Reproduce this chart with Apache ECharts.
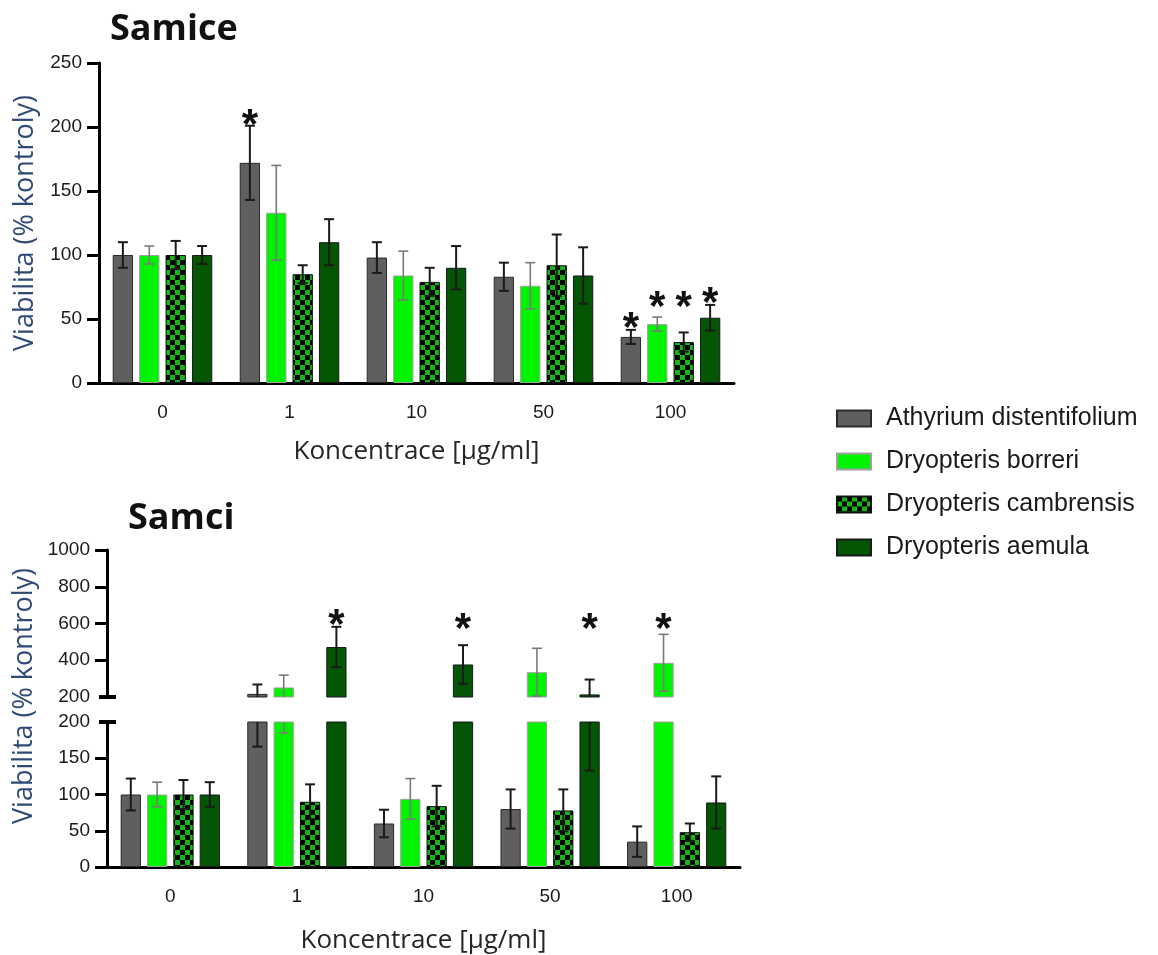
<!DOCTYPE html>
<html><head><meta charset="utf-8">
<script src="https://cdn.jsdelivr.net/npm/echarts@6/dist/echarts.min.js"></script>
<style>html,body{margin:0;padding:0;background:#fff}#c{width:1158px;height:955px}</style>
</head><body><div id="c"></div>
<script>
// ---------------- DATA ----------------
const categories = ['0', '1', '10', '50', '100'];
const seriesNames = ['Athyrium distentifolium', 'Dryopteris borreri', 'Dryopteris cambrensis', 'Dryopteris aemula'];

// Samice (top panel)
const femAthyrium      = [100, 172, 98, 83, 36];
const femAthyriumErr   = [10, 29, 12, 11, 5.5];
const femBorreri       = [100, 133, 84, 76, 46];
const femBorreriErr    = [7, 37, 19, 18, 5.5];
const femCambrensis    = [100, 85, 79, 92, 32];
const femCambrensisErr = [11, 7, 11, 24, 7.5];
const femAemula        = [100, 110, 90, 84, 51];
const femAemulaErr     = [7, 18, 17, 22, 10];
const femStarAthyrium  = [null, 208, null, null, 50];
const femStarBorreri   = [null, null, null, null, 66];
const femStarCambrensis= [null, null, null, null, 66];
const femStarAemula    = [null, null, null, null, 69];

// Samci (bottom panel, broken axis)
const maleAthyrium      = [100, 217, 60, 80, 35];
const maleAthyriumErr   = [22, 51, 19, 27, 21];
const maleBorreri       = [100, 252, 94, 335, 386];
const maleBorreriErr    = [17, 67, 28, 130, 155];
const maleCambrensis    = [100, 90, 84, 78, 48];
const maleCambrensisErr = [20, 24, 28, 29, 12];
const maleAemula        = [100, 472, 377, 214, 89];
const maleAemulaErr     = [17, 110, 105, 81, 36];
const maleStarAthyrium  = [null, null, null, null, null];
const maleStarBorreri   = [null, null, null, null, 618];
const maleStarCambrensis= [null, null, null, null, null];
const maleStarAemula    = [null, 636, 618, 618, null];

const topTicks = [0, 50, 100, 150, 200, 250];
const bottomUpperTicks = [200, 400, 600, 800, 1000];
const bottomLowerTicks = [0, 50, 100, 150, 200];
const BREAK_VALUE = 200;

// ---------------- STYLE ----------------
const BAR_W = 0.16, BAR_GAP = 0.3;
function checker() {
  const c = document.createElement('canvas');
  c.width = 10; c.height = 10;
  const g = c.getContext('2d');
  g.fillStyle = '#16b416'; g.fillRect(0, 0, 10, 10);
  g.fillStyle = '#000'; g.fillRect(0, 0, 5, 5); g.fillRect(5, 5, 5, 5);
  return c;
}
const pattern = { image: checker(), repeat: 'repeat' };
const itemStyles = [
  { color: '#5f5f5f', borderColor: '#2a2a2a', borderWidth: 1 },
  { color: '#00f400', borderColor: '#a0a0a0', borderWidth: 1 },
  { color: pattern, borderColor: '#111', borderWidth: 1 },
  { color: '#045504', borderColor: '#1a1a1a', borderWidth: 1 }
];
const errColors = ['#1a1a1a', '#7a7a7a', '#1a1a1a', '#1a1a1a'];
const errWidths = [2, 1.6, 2, 2];
const LABEL_FONT = 'Liberation Sans';
const TITLE_FONT = 'Open Sans';

function barOffset(api, k) {
  const band = api.size([1, 0])[0];
  const bw = band * BAR_W;
  return (k - 1.5) * bw * (1 + BAR_GAP);
}

function errorSeries(k, means, errs, xi, yi) {
  return {
    type: 'custom', xAxisIndex: xi, yAxisIndex: yi, z: 5, silent: true,
    encode: { x: 0, y: 1 },
    data: means.map((v, i) => [i, v, errs[i]]),
    renderItem: function (params, api) {
      const cat = api.value(0), m = api.value(1), e = api.value(2);
      const cs = params.coordSys;
      const x = api.coord([cat, m])[0] + barOffset(api, k);
      const yT = api.coord([cat, m + e])[1];
      const yB = api.coord([cat, m - e])[1];
      const top = cs.y, bot = cs.y + cs.height;
      const style = { stroke: errColors[k], lineWidth: errWidths[k] };
      const ch = [];
      const y1 = Math.max(yT, top), y2 = Math.min(yB, bot);
      if (y1 < y2) ch.push({ type: 'line', shape: { x1: x, y1: y1, x2: x, y2: y2 }, style: style });
      const cap = 5;
      if (yT >= top - 0.5 && yT <= bot + 0.5) ch.push({ type: 'line', shape: { x1: x - cap, y1: yT, x2: x + cap, y2: yT }, style: style });
      if (yB >= top - 0.5 && yB <= bot + 0.5) ch.push({ type: 'line', shape: { x1: x - cap, y1: yB, x2: x + cap, y2: yB }, style: style });
      return { type: 'group', children: ch };
    }
  };
}

function starSeries(k, stars, xi, yi) {
  const d = [];
  stars.forEach((v, i) => { if (v !== null) d.push([i, v]); });
  return {
    type: 'custom', xAxisIndex: xi, yAxisIndex: yi, z: 6, silent: true, clip: false,
    encode: { x: 0, y: 1 }, data: d,
    renderItem: function (params, api) {
      const p = api.coord([api.value(0), api.value(1)]);
      return {
        type: 'text',
        style: { text: '*', x: p[0] + barOffset(api, k), y: p[1] + 10, align: 'center', verticalAlign: 'middle',
                 font: 'bold 42px "Liberation Sans"', fill: '#111' }
      };
    }
  };
}

function breakSeries(xi, yi) {
  return {
    type: 'custom', xAxisIndex: xi, yAxisIndex: yi, z: 7, silent: true, clip: false,
    encode: { x: 0, y: 1 }, data: [[0, BREAK_VALUE]],
    renderItem: function (params, api) {
      const cs = params.coordSys;
      const y = api.coord([0, api.value(1)])[1];
      return { type: 'line', shape: { x1: cs.x - 8, y1: y, x2: cs.x + 9, y2: y }, style: { stroke: '#000', lineWidth: 4 } };
    }
  };
}

function barSeries(k, data, xi, yi) {
  return { type: 'bar', name: seriesNames[k], xAxisIndex: xi, yAxisIndex: yi, data: data,
           barWidth: (BAR_W * 100) + '%', barGap: (BAR_GAP * 100) + '%', itemStyle: itemStyles[k], clip: true, z: 2 };
}

const femMeans = [femAthyrium, femBorreri, femCambrensis, femAemula];
const femErrs = [femAthyriumErr, femBorreriErr, femCambrensisErr, femAemulaErr];
const femStars = [femStarAthyrium, femStarBorreri, femStarCambrensis, femStarAemula];
const maleMeans = [maleAthyrium, maleBorreri, maleCambrensis, maleAemula];
const maleErrs = [maleAthyriumErr, maleBorreriErr, maleCambrensisErr, maleAemulaErr];
const maleStars = [maleStarAthyrium, maleStarBorreri, maleStarCambrensis, maleStarAemula];

const series = [];
for (let k = 0; k < 4; k++) {
  series.push(barSeries(k, femMeans[k], 0, 0));
  series.push(errorSeries(k, femMeans[k], femErrs[k], 0, 0));
  series.push(starSeries(k, femStars[k], 0, 0));
  series.push(barSeries(k, maleMeans[k].map(v => v > BREAK_VALUE ? v : '-'), 1, 1));
  series.push(errorSeries(k, maleMeans[k], maleErrs[k], 1, 1));
  series.push(starSeries(k, maleStars[k], 1, 1));
  series.push(barSeries(k, maleMeans[k], 2, 2));
  series.push(errorSeries(k, maleMeans[k], maleErrs[k], 2, 2));
}
series.push(breakSeries(1, 1));
series.push(breakSeries(2, 2));

const axisLineStyle = { color: '#000', width: 3 };
function xAxis(gi, show, gap) {
  return {
    type: 'category', gridIndex: gi, data: categories, show: show,
    axisLine: { lineStyle: axisLineStyle },
    axisTick: { alignWithLabel: true, length: 10, lineStyle: { color: '#000', width: 4 } },
    axisLabel: { margin: 20, fontSize: 19, color: '#1a1a1a', fontFamily: LABEL_FONT },
    name: show ? 'Koncentrace [µg/ml]' : '', nameLocation: 'middle', nameGap: gap || 56,
    nameTextStyle: { fontFamily: TITLE_FONT, fontSize: 26, color: '#262626' }
  };
}
function yAxis(gi, min, max, interval, tickVals, name) {
  return {
    type: 'value', gridIndex: gi, min: min, max: max, interval: interval,
    splitLine: { show: false },
    axisLine: { show: true, lineStyle: axisLineStyle },
    axisTick: { show: true, length: 12, lineStyle: { color: '#000', width: 3 }, customValues: tickVals },
    axisLabel: { margin: 17, fontSize: 19, color: '#1a1a1a', fontFamily: LABEL_FONT, formatter: v => String(v) },
    name: name || '', nameLocation: 'middle', nameGap: 60,
    nameTextStyle: { fontFamily: TITLE_FONT, fontSize: 27, color: '#2f4b75' }
  };
}

const option = {
  animation: false,
  backgroundColor: '#fff',
  title: [
    { text: 'Samice', left: 110, top: 12, padding: 0, textStyle: { fontFamily: TITLE_FONT, fontWeight: 'bold', fontSize: 36, color: '#111' } },
    { text: 'Samci', left: 128, top: 501, padding: 0, textStyle: { fontFamily: TITLE_FONT, fontWeight: 'bold', fontSize: 36, color: '#111' } }
  ],
  legend: {
    orient: 'vertical', left: 831, top: 401, itemWidth: 34, itemHeight: 16, itemGap: 18,
    data: seriesNames.map(n => ({ name: n, icon: 'rect' })), selectedMode: false,
    textStyle: { fontFamily: LABEL_FONT, fontSize: 25, color: '#1a1a1a', padding: [0, 0, 0, 10] }
  },
  grid: [
    { left: 99, top: 63, width: 635, height: 320 },
    { left: 107, top: 550, width: 633, height: 147 },
    { left: 107, top: 722, width: 633, height: 146 }
  ],
  xAxis: [xAxis(0, true, 56), xAxis(1, false), xAxis(2, true, 61)],
  yAxis: [
    yAxis(0, 0, 250, 50, topTicks, 'Viabilita (% kontroly)'),
    yAxis(1, 200, 1000, 200, bottomUpperTicks.filter(v => v !== BREAK_VALUE)),
    yAxis(2, 0, 200, 50, bottomLowerTicks.filter(v => v !== BREAK_VALUE))
  ],
  graphic: [
    { type: 'text', x: 24, y: 696, rotation: Math.PI / 2,
      style: { text: 'Viabilita (% kontroly)', align: 'center', verticalAlign: 'middle',
               font: '27px "Open Sans"', fill: '#2f4b75' } }
  ],
  series: series
};
const chart = echarts.init(document.getElementById('c'), null, { renderer: 'canvas' });
chart.setOption(option);
</script></body></html>
